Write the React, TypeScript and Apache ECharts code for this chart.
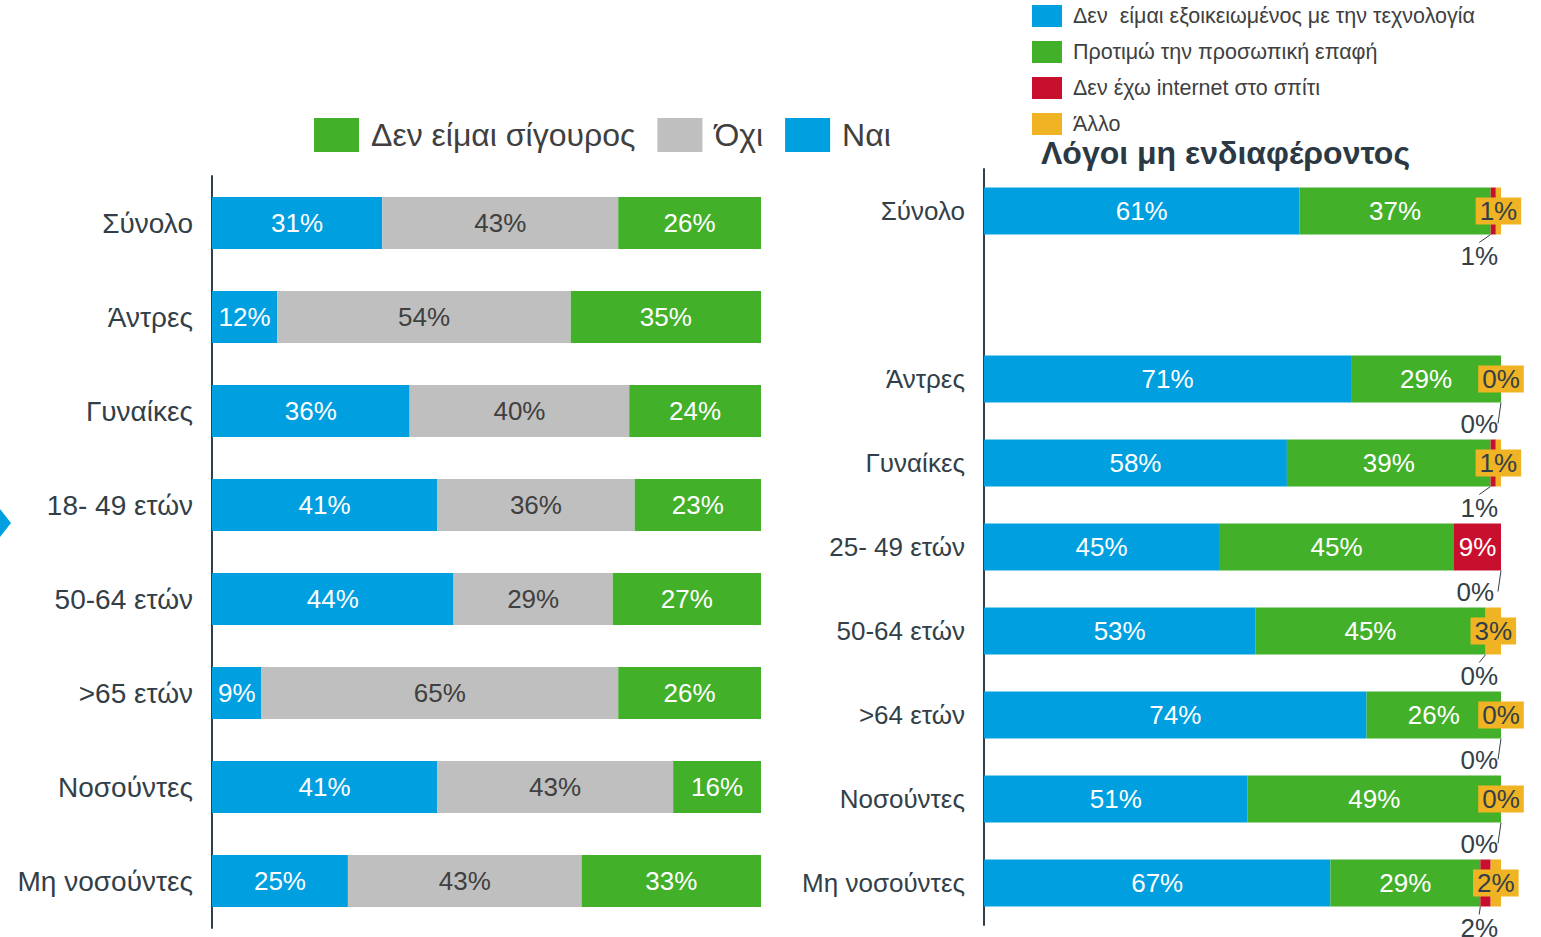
import React, { useEffect, useRef } from "react";
import * as echarts from "echarts";

const leftCategories = ["Σύνολο", "Άντρες", "Γυναίκες", "18- 49 ετών", "50-64 ετών", ">65 ετών", "Νοσούντες", "Μη νοσούντες"];
const leftYes = [31, 12, 36, 41, 44, 9, 41, 25];
const leftNo = [43, 54, 40, 36, 29, 65, 43, 43];
const leftUnsure = [26, 35, 24, 23, 27, 26, 16, 33];
const leftNames = ["Ναι", "Όχι", "Δεν είμαι σίγουρος"];

const rightCategories = ["Σύνολο", "", "Άντρες", "Γυναίκες", "25- 49 ετών", "50-64 ετών", ">64 ετών", "Νοσούντες", "Μη νοσούντες"];
const rightTech: (number | null)[] = [61, null, 71, 58, 45, 53, 74, 51, 67];
const rightPersonal: (number | null)[] = [37, null, 29, 39, 45, 45, 26, 49, 29];
const rightInternet: (number | null)[] = [1, null, 0, 1, 9, 0, 0, 0, 2];
const rightOther: (number | null)[] = [1, null, 0, 1, 0, 3, 0, 0, 2];
const rightNames = [
  "Δεν  είμαι εξοικειωμένος με την τεχνολογία",
  "Προτιμώ την προσωπική επαφή",
  "Δεν έχω internet στο σπίτι",
  "Άλλο",
];
// row where the "internet" share is labelled inside its bar and "other" is labelled below
const insideInternetRow = 4;

const BLUE = "#009FE0";
const GREEN = "#43B02A";
const GRAY = "#BFBFBF";
const RED = "#C8102E";
const YELLOW = "#F0B323";
const TEXT = "#333F48";
const FONT = "'Liberation Sans', Arial, sans-serif";

function normalize(rows: (number | null)[][]) {
  return rows.map((r) =>
    r.map((v, i) => {
      if (v == null) return { value: "-", raw: null };
      const sum = rows.reduce((s, rr) => s + (rr[i] as number), 0);
      return { value: (v / sum) * 100, raw: v };
    })
  );
}

export default function App() {
  const ref = useRef<HTMLDivElement>(null);
  useEffect(() => {
    document.body.style.margin = "0";
    const chart = echarts.init(ref.current!, undefined, { renderer: "svg" });
    const [lYes, lNo, lUnsure] = normalize([leftYes, leftNo, leftUnsure]);
    const [rTech, rPers, rNet, rOther] = normalize([rightTech, rightPersonal, rightInternet, rightOther]);
    const fmt = (p: any) => (p.data.raw == null ? "" : p.data.raw + "%");

    const rGridLeft = 984;
    const rGridWidth = 517;
    const belowLayout = (rowTest: (i: number) => boolean) => (params: any) => {
      if (!rowTest(params.dataIndex)) return {};
      return {
        x: rGridLeft + rGridWidth - 3,
        y: params.rect.y + params.rect.height + 21,
        align: "right",
        verticalAlign: "middle",
      };
    };

    const barLabel = { show: true, position: "inside", color: "#fff", fontSize: 26, fontFamily: FONT, formatter: fmt };

    chart.setOption({
      animation: false,
      textStyle: { fontFamily: FONT },
      title: {
        text: "Λόγοι μη ενδιαφέροντος",
        left: 1036,
        top: 132,
        textStyle: { fontSize: 32, fontWeight: "bold", color: "#2B3944", fontFamily: FONT },
      },
      legend: [
        {
          data: ["Δεν είμαι σίγουρος", "Όχι", "Ναι"],
          left: 309,
          top: 113,
          itemWidth: 45,
          itemHeight: 34,
          itemGap: 22,
          icon: "rect",
          textStyle: { fontSize: 32, color: "#404040", fontFamily: FONT, padding: [0, 0, 0, 7] },
        },
        {
          data: rightNames,
          left: 1027,
          top: 0,
          orient: "vertical",
          itemWidth: 30,
          itemHeight: 22,
          itemGap: 14,
          icon: "rect",
          textStyle: { fontSize: 21.5, color: "#404040", fontFamily: FONT, padding: [0, 0, 0, 6] },
        },
      ],
      grid: [
        { left: 212, top: 176, width: 549, height: 752 },
        { left: rGridLeft, top: 169, width: rGridWidth, height: 756 },
      ],
      xAxis: [
        { gridIndex: 0, type: "value", min: 0, max: 100, show: false },
        { gridIndex: 1, type: "value", min: 0, max: 100, show: false },
      ],
      yAxis: [
        {
          gridIndex: 0,
          type: "category",
          inverse: true,
          data: leftCategories,
          axisLine: { show: true, lineStyle: { color: "#333F48", width: 2 } },
          axisTick: { show: false },
          axisLabel: { fontSize: 28, color: TEXT, margin: 19, fontFamily: FONT },
        },
        {
          gridIndex: 1,
          type: "category",
          inverse: true,
          data: rightCategories,
          axisLine: { show: true, lineStyle: { color: "#333F48", width: 2 } },
          axisTick: { show: false },
          axisLabel: { fontSize: 26, color: TEXT, margin: 19, fontFamily: FONT },
        },
      ],
      graphic: [
        {
          type: "polygon",
          shape: { points: [[0, 509], [11, 523], [0, 537]] },
          style: { fill: BLUE },
        },
      ],
      series: [
        {
          name: leftNames[0], type: "bar", stack: "l", xAxisIndex: 0, yAxisIndex: 0,
          barWidth: 52, data: lYes, itemStyle: { color: BLUE }, label: barLabel,
        },
        {
          name: leftNames[1], type: "bar", stack: "l", xAxisIndex: 0, yAxisIndex: 0,
          barWidth: 52, data: lNo, itemStyle: { color: GRAY }, label: { ...barLabel, color: "#404040" },
        },
        {
          name: leftNames[2], type: "bar", stack: "l", xAxisIndex: 0, yAxisIndex: 0,
          barWidth: 52, data: lUnsure, itemStyle: { color: GREEN }, label: barLabel,
        },
        {
          name: rightNames[0], type: "bar", stack: "r", xAxisIndex: 1, yAxisIndex: 1,
          barWidth: 47, data: rTech, itemStyle: { color: BLUE }, label: barLabel,
        },
        {
          name: rightNames[1], type: "bar", stack: "r", xAxisIndex: 1, yAxisIndex: 1,
          barWidth: 47, data: rPers, itemStyle: { color: GREEN }, label: barLabel,
        },
        {
          name: rightNames[2], type: "bar", stack: "r", xAxisIndex: 1, yAxisIndex: 1,
          barWidth: 47, itemStyle: { color: RED },
          data: rNet.map((d, i) =>
            i === insideInternetRow
              ? { ...d, label: { color: "#fff" } }
              : d
          ),
          label: { show: true, position: "inside", color: TEXT, fontSize: 26, fontFamily: FONT, formatter: fmt },
          labelLayout: belowLayout((i) => i !== insideInternetRow),
          labelLine: { show: true, lineStyle: { color: "#333F48", width: 1 } },
        },
        {
          name: rightNames[3], type: "bar", stack: "r", xAxisIndex: 1, yAxisIndex: 1,
          barWidth: 47, itemStyle: { color: YELLOW },
          data: rOther.map((d, i) =>
            i === insideInternetRow
              ? { ...d, label: { backgroundColor: "transparent" } }
              : d
          ),
          label: {
            show: true, position: "inside", color: TEXT, fontSize: 26, fontFamily: FONT, formatter: fmt,
            backgroundColor: YELLOW, padding: [1, 4, 0, 4],
          },
          labelLayout: belowLayout((i) => i === insideInternetRow),
          labelLine: { show: true, lineStyle: { color: "#333F48", width: 1 } },
          z: 3,
        },
      ],
    });
    return () => chart.dispose();
  }, []);
  return <div ref={ref} style={{ width: 1541, height: 937 }} />;
}
